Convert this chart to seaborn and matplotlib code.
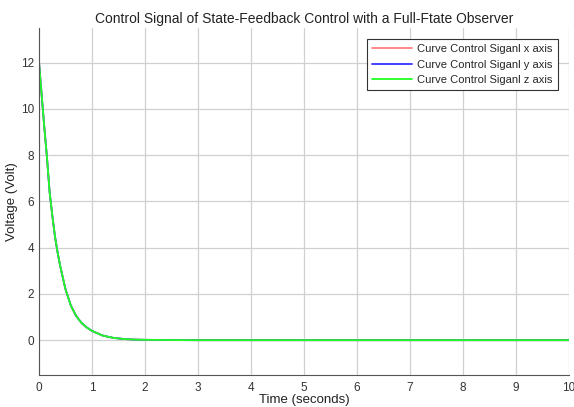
import numpy as np
import pandas as pd
import matplotlib
matplotlib.use('Agg')
import matplotlib.pyplot as plt
import seaborn as sns

# values
time_s = [0, 0.05, 0.1, 0.15, 0.2, 0.25, 0.3, 0.35, 0.4, 0.5, 0.6, 0.7, 0.8, 0.9,
          1.0, 1.2, 1.4, 1.6, 1.8, 2.0, 2.5, 3, 4, 5, 6, 7, 8, 9, 10]
u_x = [12, 10.6, 9.2, 7.9, 6.4, 5.4, 4.5, 3.8, 3.2, 2.2, 1.5, 1.05, 0.75, 0.55,
       0.4, 0.2, 0.1, 0.05, 0.025, 0.015, 0.005, 0, 0, 0, 0, 0, 0, 0, 0]
u_y = list(u_x)
u_z = list(u_x)

labels = ['Curve Control Siganl x axis', 'Curve Control Siganl y axis', 'Curve Control Siganl z axis']
colors = ['#ff8080', '#3333ff', '#22ff22']

sns.set_style('whitegrid')
plt.rcParams['font.family'] = ['Liberation Sans', 'DejaVu Sans']

fig = plt.figure(figsize=(5.74, 4.07), dpi=100)
ax = fig.add_axes([0.068, 0.079, 0.923, 0.852])

for vals, lab, col in zip([u_x, u_y, u_z], labels, colors):
    sns.lineplot(x=time_s, y=vals, ax=ax, color=col, label=lab, linewidth=1.3)

ax.set_xlim(0, 10)
ax.set_ylim(-1.5, 13.5)
ax.set_xticks(range(0, 11))
ax.set_yticks(range(0, 13, 2))
ax.grid(True, color='#d0d0d0', linewidth=0.9)
for s in ax.spines.values():
    s.set_color('#555555')
    s.set_linewidth(0.8)
ax.spines['top'].set_visible(False)
ax.spines['right'].set_visible(False)
ax.tick_params(axis='both', labelsize=8.5, colors='#333333', direction='in', length=3)
ax.tick_params(axis='x', pad=5)

ax.set_title('Control Signal of State-Feedback Control with a Full-Ftate Observer',
             fontsize=10, color='#222222', pad=4)
ax.set_xlabel('Time (seconds)', fontsize=9.5, color='#222222', labelpad=0)
ax.set_ylabel('Voltage (Volt)', fontsize=9.5, color='#222222', labelpad=2)

leg = ax.legend(loc='upper right', fontsize=8, frameon=True, fancybox=False,
                edgecolor='#333333', framealpha=1, handlelength=3.6,
                handletextpad=0.5, borderaxespad=1.0, labelspacing=0.5,
                borderpad=0.45)
leg.get_frame().set_linewidth(0.8)

fig.savefig('out.png', dpi=100)
